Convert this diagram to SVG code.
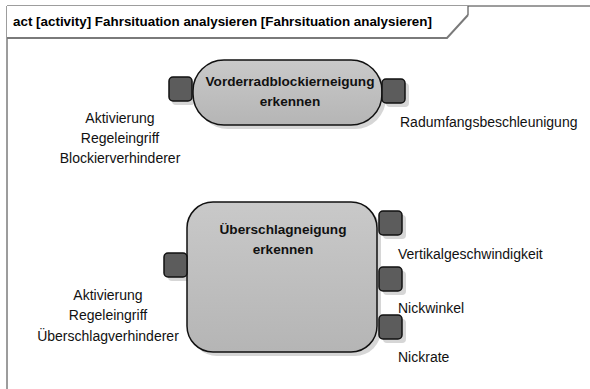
<svg xmlns="http://www.w3.org/2000/svg" width="590" height="389" viewBox="0 0 590 389">
<style>
.frame{fill:none;stroke:#3a3a3a;stroke-width:1}
.hdr{fill:#fff;stroke:none}
.hdrline{fill:none;stroke:#7a7a7a;stroke-width:2}
.title{font-family:"Liberation Sans",Arial,sans-serif;font-weight:bold;font-size:13.4px;fill:#000}
.node{fill:url(#g);stroke:#111;stroke-width:1.5}
.shadow{fill:#d6d6d6;stroke:none}
.pin{fill:#5c5c5c;stroke:#111;stroke-width:1.5}
.ntext{font-family:"Liberation Sans",Arial,sans-serif;font-weight:bold;font-size:13.6px;fill:#111;text-anchor:middle}
.lbl{font-family:"Liberation Sans",Arial,sans-serif;font-size:14px;fill:#111}
.c{text-anchor:middle}
</style>
<defs>
<linearGradient id="g" x1="0" y1="0" x2="0" y2="1">
<stop offset="0" stop-color="#c9c9c9"/>
<stop offset="1" stop-color="#b5b5b5"/>
</linearGradient>
</defs>
<rect width="590" height="389" fill="#fff"/>
<g id="frame">
<path class="frame" d="M7,389 V6 H590"/>
<polygon class="hdr" points="7,6 468,6 468,15 447,38 7,38"/>
<path class="hdrline" d="M7,38 H447 L468,15"/>
<path d="M468,6 V15" stroke="#555" stroke-width="1.2" fill="none"/>
<text class="title" x="13" y="26">act [activity] Fahrsituation analysieren [Fahrsituation analysieren]</text>
</g>
<g id="node1">
<rect class="shadow" x="197" y="64" width="189" height="65" rx="31"/>
<rect class="shadow" x="172" y="81" width="23" height="24" rx="4"/>
<rect class="shadow" x="386" y="83" width="23" height="24" rx="4"/>
<rect class="node" x="193" y="60" width="189" height="65" rx="31"/>
<rect class="pin" x="169" y="77" width="23" height="24" rx="4"/>
<rect class="pin" x="382" y="79" width="23" height="24" rx="4"/>
<text class="ntext" x="290" y="86">Vorderradblockierneigung</text>
<text class="ntext" x="290" y="106">erkennen</text>
</g>
<g id="node1-labels">
<text class="lbl c" x="120" y="123">Aktivierung</text>
<text class="lbl c" x="120" y="143">Regeleingriff</text>
<text class="lbl c" x="120" y="163">Blockierverhinderer</text>
<text class="lbl" x="400" y="127">Radumfangsbeschleunigung</text>
</g>
<g id="node2">
<rect class="shadow" x="191" y="206" width="190" height="150" rx="26"/>
<rect class="shadow" x="168" y="257" width="23" height="24" rx="4"/>
<rect class="shadow" x="383" y="215" width="23" height="24" rx="4"/>
<rect class="shadow" x="383" y="271" width="23" height="24" rx="4"/>
<rect class="shadow" x="383" y="319" width="23" height="24" rx="4"/>
<rect class="node" x="187" y="202" width="190" height="150" rx="26"/>
<rect class="pin" x="164" y="253" width="23" height="24" rx="4"/>
<rect class="pin" x="379" y="211" width="23" height="24" rx="4"/>
<rect class="pin" x="379" y="267" width="23" height="24" rx="4"/>
<rect class="pin" x="379" y="315" width="23" height="24" rx="4"/>
<text class="ntext" x="283" y="234">Überschlagneigung</text>
<text class="ntext" x="283" y="254">erkennen</text>
</g>
<g id="node2-labels">
<text class="lbl c" x="108" y="300">Aktivierung</text>
<text class="lbl c" x="108" y="320">Regeleingriff</text>
<text class="lbl c" x="108" y="341">Überschlagverhinderer</text>
<text class="lbl" x="398" y="259">Vertikalgeschwindigkeit</text>
<text class="lbl" x="398" y="313">Nickwinkel</text>
<text class="lbl" x="398" y="362">Nickrate</text>
</g>
<g id="connectors"></g>
</svg>
